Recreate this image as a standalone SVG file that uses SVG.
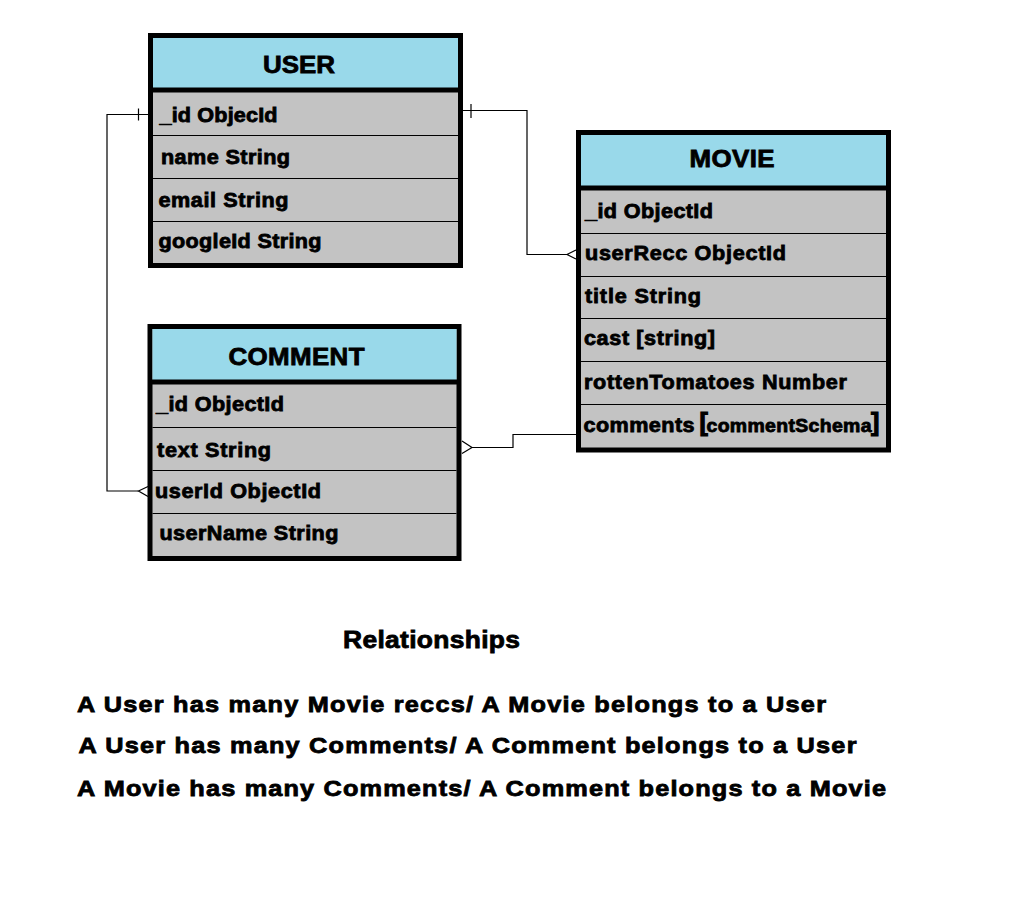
<svg xmlns="http://www.w3.org/2000/svg" width="1010" height="918" viewBox="0 0 1010 918">
<style>
.box{fill:#c3c3c3;stroke:#000;stroke-width:5}
.hdr{fill:#99d9ea}
.sep{stroke:#000;stroke-width:5}
.row{stroke:#000;stroke-width:1.2}
text{font-family:"Liberation Sans",Arial,sans-serif;font-weight:bold;fill:#000;stroke:#000;stroke-width:0.8}
.h{font-size:24px}
.f{font-size:20px}
.b{font-size:22px}
.conn path,.conn line{fill:none;stroke:#000;stroke-width:1.2}
</style>
<rect width="1010" height="918" fill="#fff"/>
<g id="user">
<rect class="box" x="150.5" y="35.5" width="310" height="230"/>
<rect class="hdr" x="153" y="38" width="305" height="50"/>
<line class="sep" x1="150.5" y1="90" x2="460.5" y2="90"/>
<line class="row" x1="153" y1="135.5" x2="458" y2="135.5"/>
<line class="row" x1="153" y1="178.5" x2="458" y2="178.5"/>
<line class="row" x1="153" y1="221.5" x2="458" y2="221.5"/>
<text class="h" transform="matrix(1.08,0,0,1,263,73.3)" textLength="66.7" lengthAdjust="spacing">USER</text>
<text class="f" transform="matrix(1.08,0,0,1,159.5,121.7)" textLength="109.3" lengthAdjust="spacing">_id ObjecId</text>
<text class="f" transform="matrix(1.08,0,0,1,161,164.3)" textLength="119.4" lengthAdjust="spacing">name String</text>
<text class="f" transform="matrix(1.08,0,0,1,158.5,206.7)" textLength="120.4" lengthAdjust="spacing">email String</text>
<text class="f" transform="matrix(1.08,0,0,1,158.5,248.3)" textLength="150.9" lengthAdjust="spacing">googleId String</text>
</g>
<g id="comment">
<rect class="box" x="150" y="326.5" width="309" height="232"/>
<rect class="hdr" x="152.5" y="329" width="304" height="51"/>
<line class="sep" x1="150" y1="382" x2="459" y2="382"/>
<line class="row" x1="152.5" y1="427.5" x2="456.5" y2="427.5"/>
<line class="row" x1="152.5" y1="470.5" x2="456.5" y2="470.5"/>
<line class="row" x1="152.5" y1="513.5" x2="456.5" y2="513.5"/>
<text class="h" transform="matrix(1.08,0,0,1,228.5,365)" textLength="125.9" lengthAdjust="spacing">COMMENT</text>
<text class="f" transform="matrix(1.08,0,0,1,156,410.7)" textLength="118.5" lengthAdjust="spacing">_id ObjectId</text>
<text class="f" transform="matrix(1.08,0,0,1,157,456.7)" textLength="105.6" lengthAdjust="spacing">text String</text>
<text class="f" transform="matrix(1.08,0,0,1,155,498.3)" textLength="153.7" lengthAdjust="spacing">userId ObjectId</text>
<text class="f" transform="matrix(1.08,0,0,1,159.5,540)" textLength="165.7" lengthAdjust="spacing">userName String</text>
</g>
<g id="movie">
<rect class="box" x="578.5" y="132.5" width="310" height="317.5"/>
<rect class="hdr" x="581" y="135" width="305" height="51"/>
<line class="sep" x1="578.5" y1="188" x2="888.5" y2="188"/>
<line class="row" x1="581" y1="233.5" x2="886" y2="233.5"/>
<line class="row" x1="581" y1="276.5" x2="886" y2="276.5"/>
<line class="row" x1="581" y1="318.5" x2="886" y2="318.5"/>
<line class="row" x1="581" y1="361.5" x2="886" y2="361.5"/>
<line class="row" x1="581" y1="404.5" x2="886" y2="404.5"/>
<text class="h" transform="matrix(1.08,0,0,1,689.5,166.7)" textLength="78.7" lengthAdjust="spacing">MOVIE</text>
<text class="f" transform="matrix(1.08,0,0,1,585,217.7)" textLength="118.5" lengthAdjust="spacing">_id ObjectId</text>
<text class="f" transform="matrix(1.08,0,0,1,585,260)" textLength="186.1" lengthAdjust="spacing">userRecc ObjectId</text>
<text class="f" transform="matrix(1.08,0,0,1,585,303.3)" textLength="107.4" lengthAdjust="spacing">title String</text>
<text class="f" transform="matrix(1.08,0,0,1,584,345)" textLength="121.3" lengthAdjust="spacing">cast [string]</text>
<text class="f" transform="matrix(1.08,0,0,1,584,389.3)" textLength="243.5" lengthAdjust="spacing">rottenTomatoes Number</text>
<text class="f" transform="matrix(1.08,0,0,1,583.5,431.7)" textLength="102.8" lengthAdjust="spacing">comments</text>
<text x="699.5" y="431" style="font-size:25px;stroke-width:1.2">[</text>
<text transform="matrix(1.08,0,0,1,706.5,431.7)" style="font-size:18px" textLength="152.8" lengthAdjust="spacing">commentSchema</text>
<text x="871" y="431" style="font-size:25px;stroke-width:1.2">]</text>
</g>
<g id="connectors" class="conn">
<path d="M463,110.5 H527 V254.5 H567"/>
<line x1="471" y1="104" x2="471" y2="118"/>
<path d="M576,250 L567,254.5 L576,259"/>
<path d="M148,114.5 H107 V491 H138.5"/>
<line x1="138.5" y1="108.5" x2="138.5" y2="120.5"/>
<path d="M148,486.5 L138.5,491 L148,496.5"/>
<path d="M576,434.5 H513 V447.5 H472"/>
<path d="M462,441 L472,447.5 L462,453.5"/>
</g>
<g id="relationships">
<text transform="matrix(1.1,0,0,1,343,648.3)" style="font-size:24px" textLength="160.9" lengthAdjust="spacing">Relationships</text>
<text class="b" transform="matrix(1.15,0,0,1,77,711.7)" textLength="651.3" lengthAdjust="spacing">A User has many Movie reccs/ A Movie belongs to a User</text>
<text class="b" transform="matrix(1.15,0,0,1,78.5,753.3)" textLength="676.5" lengthAdjust="spacing">A User has many Comments/ A Comment belongs to a User</text>
<text class="b" transform="matrix(1.15,0,0,1,77,796)" textLength="703.5" lengthAdjust="spacing">A Movie has many Comments/ A Comment belongs to a Movie</text>
</g>
</svg>
